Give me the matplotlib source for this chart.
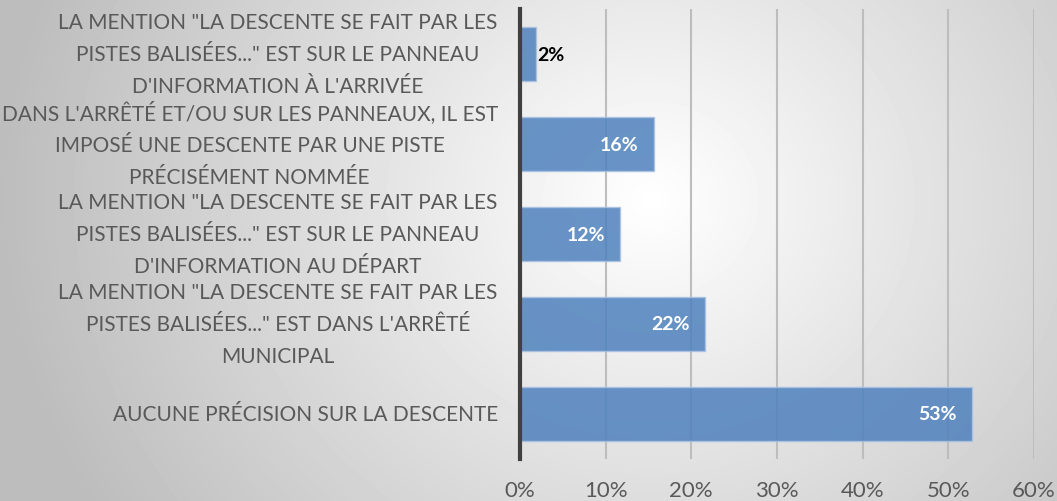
import numpy as np
import matplotlib
matplotlib.use("Agg")
import matplotlib.pyplot as plt
from matplotlib.ticker import PercentFormatter

# categories from top to bottom
categories = [
    'LA MENTION "LA DESCENTE SE FAIT PAR LES\nPISTES BALISÉES..." EST SUR LE PANNEAU\nD\'INFORMATION À L\'ARRIVÉE',
    "DANS L'ARRÊTÉ ET/OU SUR LES PANNEAUX, IL EST\nIMPOSÉ UNE DESCENTE PAR UNE PISTE\nPRÉCISÉMENT NOMMÉE",
    'LA MENTION "LA DESCENTE SE FAIT PAR LES\nPISTES BALISÉES..." EST SUR LE PANNEAU\nD\'INFORMATION AU DÉPART',
    'LA MENTION "LA DESCENTE SE FAIT PAR LES\nPISTES BALISÉES..." EST DANS L\'ARRÊTÉ\nMUNICIPAL',
    'AUCUNE PRÉCISION SUR LA DESCENTE',
]
values = [1.9, 15.6, 11.7, 21.6, 52.8]
value_labels = ['2%', '16%', '12%', '22%', '53%']
x_ticks = [0, 10, 20, 30, 40, 50, 60]

plt.rcParams['font.family'] = ['Lato', 'DejaVu Sans']

fig = plt.figure(figsize=(10.57, 5.02), dpi=100)

# radial grey background, lighter in the middle
bg = fig.add_axes([0, 0, 1, 1], zorder=0)
yy, xx = np.mgrid[0:502, 0:1057]
dist = np.sqrt((xx - 650) ** 2 + ((yy - 200) * 1.1) ** 2) / 650
shade = 1 - 0.26 * np.clip(dist, 0, 1)
bg.imshow(shade, cmap='gray', vmin=0, vmax=1, aspect='auto', extent=[0, 1, 0, 1])
bg.axis('off')

ax = fig.add_axes([0.492, 0.0837, 0.486, 0.8963], zorder=1)
ax.set_facecolor('none')

pos = np.arange(len(categories))
ax.barh(pos, values, height=0.59, color='#4F81BD', alpha=0.85,
        edgecolor='#a9c3e3', linewidth=1, zorder=3)

for p, v, lab in zip(pos, values, value_labels):
    if v < 5:
        ax.text(v + 0.1, p, lab, ha='left', va='center', color='black',
                fontsize=14, fontweight='bold', zorder=4)
    else:
        ax.text(v - 1.8, p, lab, ha='right', va='center', color='white',
                fontsize=14, fontweight='bold', zorder=4)

ax.set_xlim(0, 60)
ax.set_ylim(len(categories) - 0.5, -0.5)
ax.set_xticks(x_ticks)
ax.xaxis.set_major_formatter(PercentFormatter(decimals=0))
ax.set_yticks(pos)
ax.set_yticklabels(categories, multialignment='center', linespacing=1.75, va='center')
ax.tick_params(axis='y', length=0, pad=16, labelsize=15, labelcolor='#595959')
ax.tick_params(axis='x', length=0, pad=15, labelsize=16, labelcolor='#595959')

ax.grid(axis='x', color='#bdbdbd', linewidth=1.5, zorder=1)
for side in ['top', 'right', 'bottom']:
    ax.spines[side].set_visible(False)
ax.spines['left'].set_color('#404040')
ax.spines['left'].set_linewidth(3)
ax.spines['left'].set_zorder(5)

fig.savefig('out.png', dpi=100)
